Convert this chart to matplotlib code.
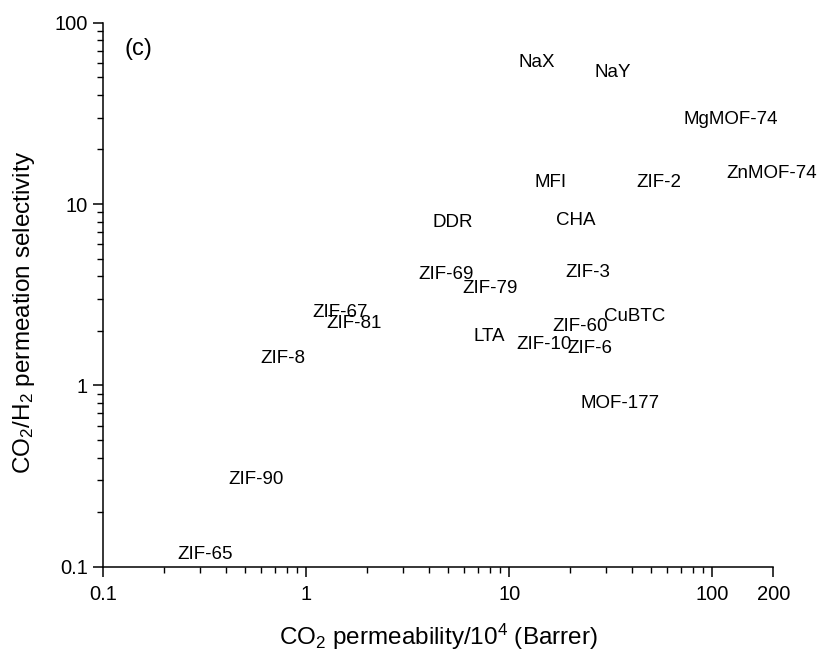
import matplotlib
matplotlib.use("Agg")
import matplotlib.pyplot as plt
from matplotlib.ticker import FixedLocator, NullFormatter

plt.rcParams['font.family'] = ['Liberation Sans', 'DejaVu Sans']
plt.rcParams['mathtext.fontset'] = 'custom'
plt.rcParams['mathtext.rm'] = 'Liberation Sans'
plt.rcParams['mathtext.it'] = 'Liberation Sans:italic'
plt.rcParams['mathtext.bf'] = 'Liberation Sans:bold'

materials = ["NaX", "NaY", "MgMOF-74", "ZnMOF-74", "MFI", "ZIF-2", "DDR", "CHA",
             "ZIF-69", "ZIF-79", "ZIF-3", "ZIF-67", "ZIF-81", "LTA", "ZIF-10",
             "ZIF-60", "ZIF-6", "CuBTC", "ZIF-8", "MOF-177", "ZIF-90", "ZIF-65"]
co2_permeability = [13.7, 32.5, 122.8, 196.6, 15.95, 54.3, 5.28, 21.25,
                    4.88, 8.03, 24.35, 1.469, 1.727, 7.96, 14.76,
                    22.2, 25.0, 41.5, 0.767, 35.0, 0.564, 0.316]
co2_h2_selectivity = [57.3, 50.4, 27.7, 13.93, 12.47, 12.47, 7.45, 7.67,
                      3.85, 3.22, 3.95, 2.39, 2.065, 1.765, 1.58,
                      2.0, 1.50, 2.27, 1.334, 0.748, 0.286, 0.110]

x_ticks = [0.1, 1, 10, 100, 200]
x_ticklabels = ["0.1", "1", "10", "100", "200"]
y_ticks = [0.1, 1, 10, 100]
y_ticklabels = ["0.1", "1", "10", "100"]

fig = plt.figure(figsize=(8.19, 6.51), dpi=100)
ax = fig.add_axes([0.1261, 0.1295, 0.8183, 0.8356])
ax.set_xscale('log')
ax.set_yscale('log')
ax.set_xlim(0.1, 200)
ax.set_ylim(0.1, 100)

for name, xv, yv in zip(materials, co2_permeability, co2_h2_selectivity):
    ax.text(xv, yv, name, ha='center', va='baseline', fontsize=13.5, color='black')

ax.text(0.0324, 0.9406, "(c)", transform=ax.transAxes, ha='left', va='baseline',
        fontsize=17)

for s in ['top', 'right']:
    ax.spines[s].set_visible(False)
for s in ['left', 'bottom']:
    ax.spines[s].set_linewidth(1.1)

ax.xaxis.set_major_locator(FixedLocator(x_ticks))
ax.set_xticklabels(x_ticklabels)
xminor = [m * 10.0 ** e for e in (-1, 0, 1) for m in range(2, 10)]
ax.xaxis.set_minor_locator(FixedLocator(xminor))
ax.xaxis.set_minor_formatter(NullFormatter())

ax.yaxis.set_major_locator(FixedLocator(y_ticks))
ax.set_yticklabels(y_ticklabels)
yminor = [m * 10.0 ** e for e in (-1, 0, 1) for m in range(2, 10)]
ax.yaxis.set_minor_locator(FixedLocator(yminor))
ax.yaxis.set_minor_formatter(NullFormatter())

ax.tick_params(which='major', direction='out', length=7.2, width=1.1,
               labelsize=14.5, pad=4)
ax.tick_params(which='minor', direction='out', length=4, width=1.0)
ax.tick_params(axis='x', which='major', pad=6)

ax.set_xlabel(r"CO$_2$ permeability/10$^4$ (Barrer)", fontsize=17.5)
ax.set_ylabel(r"CO$_2$/H$_2$ permeation selectivity", fontsize=17.5)
ax.xaxis.set_label_coords(0.5, -0.102)
ax.yaxis.set_label_coords(-0.099, 0.468)

fig.savefig("out.png", dpi=100)
